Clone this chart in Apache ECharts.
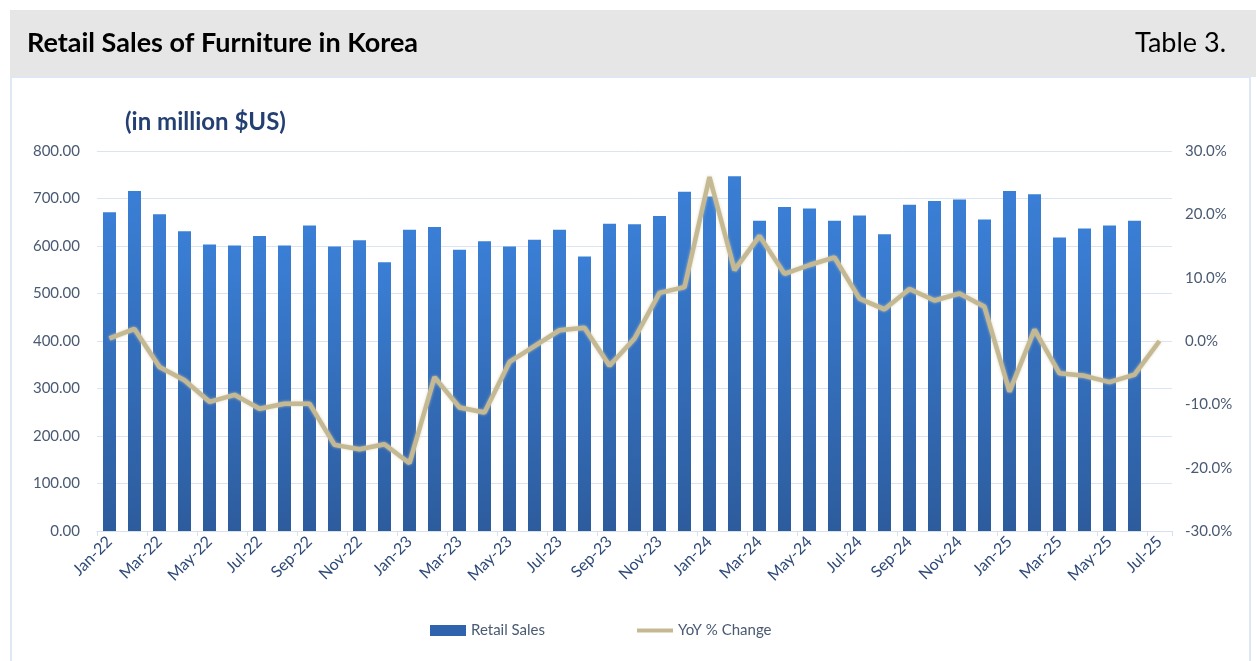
<!DOCTYPE html>
<html>
<head>
<meta charset="utf-8">
<script src="https://cdn.jsdelivr.net/npm/echarts@6/dist/echarts.min.js"></script>
<style>
html,body{margin:0;padding:0;background:#fff;}
#c{width:1256px;height:661px;}
</style>
</head>
<body>
<div id="c"></div>
<script>
const months = ['Jan-22','Feb-22','Mar-22','Apr-22','May-22','Jun-22','Jul-22','Aug-22','Sep-22','Oct-22','Nov-22','Dec-22',
'Jan-23','Feb-23','Mar-23','Apr-23','May-23','Jun-23','Jul-23','Aug-23','Sep-23','Oct-23','Nov-23','Dec-23',
'Jan-24','Feb-24','Mar-24','Apr-24','May-24','Jun-24','Jul-24','Aug-24','Sep-24','Oct-24','Nov-24','Dec-24',
'Jan-25','Feb-25','Mar-25','Apr-25','May-25','Jun-25','Jul-25'];
const retailSales = [671,716,667,631,603,601,621,601,643,599,612,566,
634,640,592,610,599,613,634,578,647,646,663,714,
704,747,653,682,679,653,664,625,687,695,698,656,
716,709,618,637,643,653,null];
const yoyChange = [0.4,1.9,-4.1,-6.2,-9.6,-8.5,-10.7,-9.9,-9.9,-16.4,-17.1,-16.3,
-19.3,-5.7,-10.5,-11.3,-3.3,-0.8,1.7,2.1,-3.9,0.4,7.6,8.5,
25.9,11.2,16.6,10.6,12.0,13.2,6.7,5.0,8.2,6.4,7.5,5.4,
-8.0,1.8,-5.1,-5.5,-6.5,-5.3,0.0];
const chartTitle = 'Retail Sales of Furniture in Korea';
const tableLabel = 'Table 3.';
const unitLabel = '(in million $US)';

const labelColor = '#4a5a73';
const chart = echarts.init(document.getElementById('c'), null, {renderer:'canvas'});
chart.setOption({
  backgroundColor:'#ffffff',
  animation:false,
  graphic:[
    {type:'rect', shape:{x:10,y:10,width:1246,height:67}, style:{fill:'#e6e6e6'}, z:-10},
    {type:'rect', shape:{x:11,y:77,width:1239,height:590}, style:{fill:'none', stroke:'#dde8f4', lineWidth:2}, z:-10},
    {type:'text', left:27, top:30, style:{text:chartTitle, font:'bold 27px Lato', fill:'#000000'}},
    {type:'text', right:30, top:30, style:{text:tableLabel, font:'27px Lato', fill:'#000000'}},
    {type:'text', left:125, top:110, style:{text:unitLabel, font:'bold 24px Lato', fill:'#243f72'}}
  ],
  legend:{
    bottom:18, left:425, itemGap:92,
    textStyle:{color:labelColor, fontFamily:'Lato', fontSize:15},
    data:[
      {name:'Retail Sales', icon:'rect', itemStyle:{color:'#2f63ad'}},
      {name:'YoY % Change', icon:'path://M0,0 L36,0 L36,4 L0,4 Z', itemStyle:{color:'#c5b994'}}
    ],
    itemWidth:36, itemHeight:11
  },
  grid:{left:97, right:84, top:151, bottom:130, containLabel:false},
  xAxis:{
    type:'category', data:months, boundaryGap:true,
    axisLine:{lineStyle:{color:'#d6e0ee', width:1}},
    axisTick:{show:true, interval:1, length:5, lineStyle:{color:'#d6e0ee'}},
    axisLabel:{interval:1, rotate:45, color:'#2e4a78', fontFamily:'Lato', fontSize:16, margin:8}
  },
  yAxis:[
    {type:'value', min:0, max:800, interval:100,
     axisLabel:{color:labelColor, fontFamily:'Lato', fontSize:15, margin:17, formatter:v=>v.toFixed(2)},
     splitLine:{lineStyle:{color:'#dae5f3', width:1}},
     axisLine:{show:false}, axisTick:{show:false}},
    {type:'value', min:-30, max:30, interval:10,
     axisLabel:{color:labelColor, fontFamily:'Lato', fontSize:15, margin:13, formatter:v=>v.toFixed(1)+'%'},
     splitLine:{show:false}, axisLine:{show:false}, axisTick:{show:false}}
  ],
  series:[
    {name:'Retail Sales', type:'bar', data:retailSales, barWidth:13, yAxisIndex:0,
     itemStyle:{color:new echarts.graphic.LinearGradient(0,0,0,1,[{offset:0,color:'#3a7fd6'},{offset:1,color:'#2d5c9d'}])}},
    {name:'YoY % Change', type:'line', data:yoyChange, yAxisIndex:1, symbol:'none', smooth:false,
     itemStyle:{color:'#c5b994'},
     lineStyle:{color:'#c5b994', width:4.5, shadowColor:'rgba(215,205,170,0.8)', shadowBlur:3}}
  ]
});
</script>
</body>
</html>
